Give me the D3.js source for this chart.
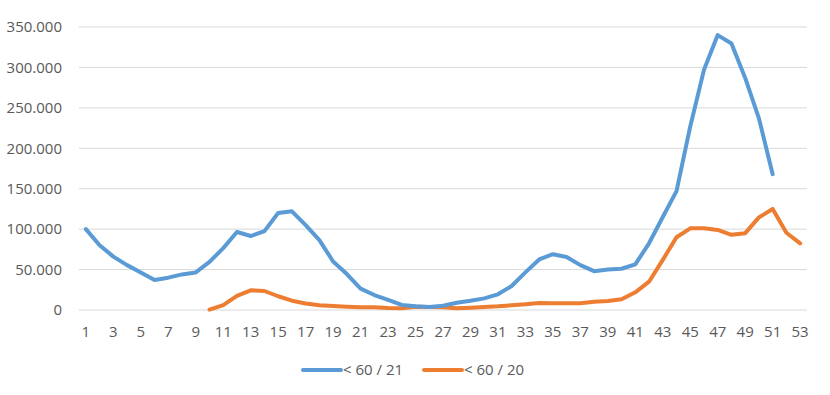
<!DOCTYPE html>
<html>
<head>
<meta charset="utf-8">
<script src="https://cdn.jsdelivr.net/npm/d3@7"></script>
<style>
  body { margin: 0; background: #fff; }
  text { font-family: "Open Sans", sans-serif; fill: #595959; }
</style>
</head>
<body>
<div class="chart"></div>
<script>
// weeks 1..53
const weeks = d3.range(1, 54);

// < 60 / 21 (weeks 1..51)
const series21 = [100000, 80000, 66000, 55500, 46500, 37000, 40000, 44000, 46500, 59500,
  76500, 96500, 91500, 97500, 120000, 122000, 105000, 86500, 60000, 44500,
  26500, 18500, 12500, 6200, 4500, 3700, 5300, 9000, 11500, 14400,
  19400, 29700, 46500, 62500, 69000, 65500, 55500, 48000, 50000, 51000,
  56500, 82500, 115000, 147000, 227000, 297000, 340000, 329500, 287000, 237000,
  168000];

// < 60 / 20 (weeks 10..53)
const start20 = 10;
const series20 = [500, 6000, 17500, 24300, 23500, 17000, 11500, 8000, 5800, 4900,
  4100, 3300, 3300, 2500, 2100, 4100, 3700, 3300, 2100, 2900,
  3700, 4500, 5800, 7000, 8700, 8300, 8300, 8300, 10300, 11100,
  13200, 21900, 35000, 62000, 90000, 101000, 101000, 99000, 93000, 95000,
  114500, 125000, 95500, 82500];

const yTicks = [0, 50000, 100000, 150000, 200000, 250000, 300000, 350000];
const legendLabels = ["< 60 / 21", "< 60 / 20"];
const colors = ["#5B9BD5", "#ED7D31"];

const width = 830, height = 395;
const plotLeft = 79, plotRight = 807, plotTop = 27, plotBottom = 310;

const svg = d3.select('.chart').append('svg')
    .attr('width', width)
    .attr('height', height);

const x = d3.scaleBand()
    .domain(weeks)
    .range([plotLeft, plotRight]);

const y = d3.scaleLinear()
    .domain([0, 350000])
    .range([plotBottom, plotTop]);

const fmt = d3.formatLocale({decimal: ",", thousands: ".", grouping: [3], currency: ["", "€"]}).format(",");

// gridlines
svg.append('g')
  .selectAll('line')
  .data(yTicks)
  .join('line')
    .attr('x1', plotLeft)
    .attr('x2', plotRight)
    .attr('y1', d => y(d))
    .attr('y2', d => y(d))
    .attr('stroke', '#d9d9d9')
    .attr('stroke-width', 1);

// y labels
svg.append('g')
  .selectAll('text')
  .data(yTicks)
  .join('text')
    .attr('x', 62)
    .attr('y', d => y(d))
    .attr('dy', '0.35em')
    .attr('text-anchor', 'end')
    .style('font-size', '15px')
    .text(d => fmt(d));

// x labels (odd weeks)
svg.append('g')
  .selectAll('text')
  .data(weeks.filter(d => d % 2 === 1))
  .join('text')
    .attr('x', d => x(d) + x.bandwidth() / 2)
    .attr('y', 337)
    .attr('text-anchor', 'middle')
    .style('font-size', '15px')
    .text(d => d);

const line = d3.line()
    .x(d => x(d.week) + x.bandwidth() / 2)
    .y(d => y(d.value));

const data21 = series21.map((v, i) => ({week: weeks[i], value: v}));
const data20 = series20.map((v, i) => ({week: start20 + i, value: v}));

svg.append('path')
    .datum(data20)
    .attr('d', line)
    .attr('fill', 'none')
    .attr('stroke', colors[1])
    .attr('stroke-width', 4)
    .attr('stroke-linejoin', 'round')
    .attr('stroke-linecap', 'round');

svg.append('path')
    .datum(data21)
    .attr('d', line)
    .attr('fill', 'none')
    .attr('stroke', colors[0])
    .attr('stroke-width', 4)
    .attr('stroke-linejoin', 'round')
    .attr('stroke-linecap', 'round');

// legend
const legend = svg.append('g')
  .selectAll('g')
  .data(legendLabels)
  .join('g')
    .attr('transform', (d, i) => `translate(${303 + i * 121}, 370)`);

legend.append('line')
    .attr('x1', 0)
    .attr('x2', 38)
    .attr('stroke', (d, i) => colors[i])
    .attr('stroke-width', 4)
    .attr('stroke-linecap', 'round');

legend.append('text')
    .attr('x', 40)
    .attr('dy', '0.35em')
    .style('font-size', '15px')
    .text(d => d);
</script>
</body>
</html>
